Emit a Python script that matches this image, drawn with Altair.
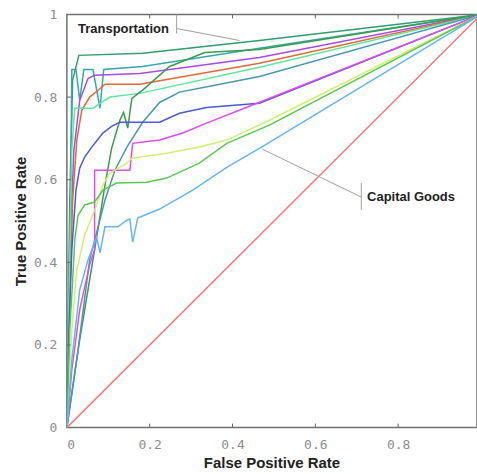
import altair as alt
import pandas as pd

# ---------------- data ----------------
series_names = ["Transportation", "S2", "S3", "S4", "S5", "S6", "S7", "S8",
                "S9", "S10", "S11", "Capital Goods", "Random"]
series_colors = ["#2f9e6e", "#35a7ae", "#a64ae8", "#e2683a", "#5ee89a", "#3c9c4c",
                 "#4a98b0", "#4a5ad8", "#e04af0", "#d0f070", "#58c850", "#66b4f8", "#ff7575"]

fpr_transport = [0, 0.007, 0.014, 0.029, 0.183, 0.465, 1]
tpr_transport = [0, 0.551, 0.841, 0.901, 0.906, 0.937, 1]

fpr_s2 = [0, 0.007, 0.012, 0.022, 0.031, 0.041, 0.063, 0.080, 0.089, 0.183, 0.465, 1]
tpr_s2 = [0, 0.309, 0.867, 0.867, 0.792, 0.867, 0.867, 0.773, 0.867, 0.874, 0.918, 1]

fpr_s3 = [0, 0.007, 0.017, 0.031, 0.051, 0.067, 0.176, 0.465, 1]
tpr_s3 = [0, 0.430, 0.671, 0.792, 0.845, 0.853, 0.857, 0.896, 1]

fpr_s4 = [0, 0.007, 0.014, 0.024, 0.036, 0.055, 0.075, 0.092, 0.176, 0.465, 1]
tpr_s4 = [0, 0.309, 0.551, 0.696, 0.768, 0.800, 0.816, 0.831, 0.831, 0.882, 1]

fpr_s5 = [0, 0.005, 0.012, 0.019, 0.063, 0.080, 0.104, 0.176, 0.465, 1]
tpr_s5 = [0, 0.309, 0.671, 0.773, 0.773, 0.785, 0.800, 0.809, 0.872, 1]

fpr_s6 = [0, 0.031, 0.067, 0.092, 0.108, 0.128, 0.137, 0.147, 0.157, 0.188, 0.248, 0.333, 0.465, 1]
tpr_s6 = [0, 0.213, 0.430, 0.587, 0.676, 0.744, 0.763, 0.725, 0.797, 0.821, 0.874, 0.908, 0.915, 1]

fpr_s7 = [0, 0.027, 0.055, 0.092, 0.116, 0.145, 0.183, 0.224, 0.272, 0.345, 0.465, 1]
tpr_s7 = [0, 0.188, 0.406, 0.551, 0.623, 0.679, 0.739, 0.787, 0.812, 0.826, 0.850, 1]

fpr_s8 = [0, 0.005, 0.012, 0.022, 0.031, 0.043, 0.060, 0.087, 0.108, 0.128, 0.224, 0.272, 0.337, 0.465, 1]
tpr_s8 = [0, 0.237, 0.430, 0.575, 0.628, 0.655, 0.679, 0.713, 0.729, 0.739, 0.739, 0.761, 0.775, 0.785, 1]

fpr_s9 = [0, 0.012, 0.031, 0.055, 0.067, 0.067, 0.152, 0.159, 0.224, 0.280, 0.337, 0.441, 1]
tpr_s9 = [0, 0.140, 0.285, 0.394, 0.430, 0.623, 0.623, 0.688, 0.696, 0.713, 0.737, 0.778, 1]

fpr_s10 = [0, 0.012, 0.024, 0.043, 0.072, 0.087, 0.104, 0.145, 0.157, 0.241, 0.320, 0.386, 0.489, 1]
tpr_s10 = [0, 0.237, 0.382, 0.466, 0.539, 0.587, 0.616, 0.640, 0.652, 0.664, 0.679, 0.696, 0.744, 1]

fpr_s11 = [0, 0.007, 0.014, 0.019, 0.027, 0.043, 0.067, 0.087, 0.120, 0.193, 0.241, 0.320, 0.386, 0.489, 1]
tpr_s11 = [0, 0.237, 0.357, 0.454, 0.514, 0.539, 0.546, 0.575, 0.592, 0.594, 0.604, 0.640, 0.688, 0.732, 1]

fpr_capital = [0, 0.012, 0.031, 0.051, 0.065, 0.072, 0.080, 0.092, 0.123, 0.145, 0.152, 0.159, 0.171,
               0.224, 0.304, 0.386, 0.465, 1]
tpr_capital = [0, 0.164, 0.333, 0.406, 0.442, 0.461, 0.423, 0.486, 0.486, 0.502, 0.505, 0.449, 0.507,
               0.529, 0.575, 0.630, 0.676, 1]

fpr_random = [0, 1]
tpr_random = [0, 1]

x_ticks = [0, 0.2, 0.4, 0.6, 0.8]
y_ticks = [0, 0.2, 0.4, 0.6, 0.8, 1.0]

# annotation anchors (data units)
ann_labels = ["Transportation", "Capital Goods"]
ann_text_x = [0.027, 0.725]
ann_text_y = [0.966, 0.558]
lead_x1 = [0.265, 0.711]
lead_y1 = [0.966, 0.558]
lead_x2 = [0.417, 0.472]
lead_y2 = [0.937, 0.674]
bar_x = [0.265, 0.711]
bar_y1 = [1.0, 0.592]
bar_y2 = [0.954, 0.527]

# ---------------- build table ----------------
all_fpr = [fpr_transport, fpr_s2, fpr_s3, fpr_s4, fpr_s5, fpr_s6, fpr_s7, fpr_s8,
           fpr_s9, fpr_s10, fpr_s11, fpr_capital, fpr_random]
all_tpr = [tpr_transport, tpr_s2, tpr_s3, tpr_s4, tpr_s5, tpr_s6, tpr_s7, tpr_s8,
           tpr_s9, tpr_s10, tpr_s11, tpr_capital, tpr_random]
rows = []
for k, (name, fx, ty) in enumerate(zip(series_names, all_fpr, all_tpr)):
    for i, (a, b) in enumerate(zip(fx, ty)):
        rows.append({"series": name, "fpr": a, "tpr": b, "i": i, "k": k})
df = pd.DataFrame(rows)

ann = pd.DataFrame({"label": ann_labels, "x": ann_text_x, "y": ann_text_y,
                    "lx1": lead_x1, "ly1": lead_y1, "lx2": lead_x2, "ly2": lead_y2,
                    "bx": bar_x, "by1": bar_y1, "by2": bar_y2})

xs = alt.Scale(domain=[0, 0.9904], nice=False, zero=False)
ys = alt.Scale(domain=[0, 1], nice=False)

lab_font = "DejaVu Sans Mono"
lab_color = "#8c8c8c"
title_font = "Liberation Sans"

lines = alt.Chart(df).mark_line(strokeWidth=1.5, clip=True).encode(
    x=alt.X("fpr:Q", scale=xs,
            axis=alt.Axis(values=x_ticks, title="False Positive Rate", grid=False, ticks=False,
                          domain=False, labelFont=lab_font, labelFontSize=13, labelColor=lab_color,
                          labelPadding=11, titleFont=title_font, titleFontSize=15,
                          titleFontWeight="bold", titleColor="#222222", titlePadding=4,
                          titleX=205, titleAnchor="middle",
                          labelExpr="datum.value == 0 ? '0' : format(datum.value, '.1f')")),
    y=alt.Y("tpr:Q", scale=ys,
            axis=alt.Axis(values=y_ticks, title="True Positive Rate", grid=False, ticks=False,
                          domain=False, labelFont=lab_font, labelFontSize=13, labelColor=lab_color,
                          labelPadding=10, titleFont=title_font, titleFontSize=15,
                          titleFontWeight="bold", titleColor="#222222", titlePadding=5,
                          labelExpr="datum.value == 0 ? '0' : (datum.value == 1 ? '1' : format(datum.value, '.1f'))")),
    color=alt.Color("series:N", scale=alt.Scale(domain=series_names, range=series_colors), legend=None),
    order="i:Q",
    detail="series:N",
)

tick_df_x = pd.DataFrame({"v": x_ticks[1:]})
tick_df_y = pd.DataFrame({"v": y_ticks[1:-1]})
bottom_ticks = alt.Chart(tick_df_x).mark_rule(color="#666666", strokeWidth=1).encode(
    x=alt.X("v:Q", scale=xs), y=alt.value(414), y2=alt.value(410))
top_ticks = alt.Chart(tick_df_x).mark_rule(color="#666666", strokeWidth=1).encode(
    x=alt.X("v:Q", scale=xs), y=alt.value(0), y2=alt.value(4))
left_ticks = alt.Chart(tick_df_y).mark_rule(color="#666666", strokeWidth=1).encode(
    y=alt.Y("v:Q", scale=ys), x=alt.value(0), x2=alt.value(4))

leaders = alt.Chart(ann).mark_rule(color="#a0a0a0", strokeWidth=1).encode(
    x=alt.X("lx1:Q", scale=xs), y=alt.Y("ly1:Q", scale=ys), x2="lx2:Q", y2="ly2:Q")
bars = alt.Chart(ann).mark_rule(color="#a0a0a0", strokeWidth=1).encode(
    x=alt.X("bx:Q", scale=xs), y=alt.Y("by1:Q", scale=ys), y2="by2:Q")
texts = alt.Chart(ann).mark_text(align="left", baseline="middle", font=title_font,
                                  fontSize=13, fontWeight="bold", color="#222222").encode(
    x=alt.X("x:Q", scale=xs), y=alt.Y("y:Q", scale=ys), text="label:N")

chart = alt.layer(lines, bottom_ticks, top_ticks, left_ticks, leaders, bars, texts).properties(
    width=411, height=414,
    padding={"left": 67, "top": 14, "right": 0, "bottom": 46},
    autosize=alt.AutoSizeParams(type="none"),
    background="white",
).configure_view(stroke="#707070", strokeWidth=1.5)

chart.save("out.html", embed_options={"renderer": "svg", "actions": False})
